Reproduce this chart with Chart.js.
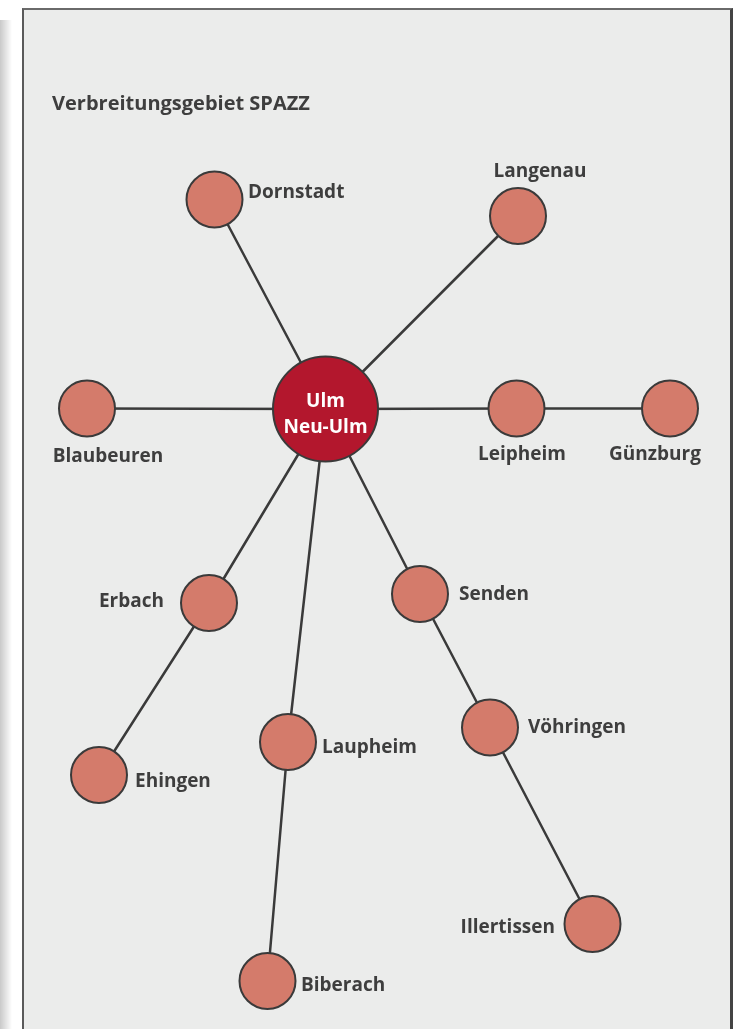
<!DOCTYPE html>
<html>
<head>
<meta charset="utf-8">
<script src="https://cdn.jsdelivr.net/npm/chart.js@4"></script>
<style>
  html, body { margin: 0; padding: 0; background: #ffffff; }
  #wrap { position: relative; width: 737px; height: 1029px; overflow: hidden; background: #ffffff; }
  #shadow { position: absolute; left: 0; top: 20px; width: 12px; height: 1009px;
            background: linear-gradient(to right, #c9c9c9, #ffffff); }
  #frame { position: absolute; left: 22px; top: 8px; width: 706px; height: 1040px;
           background: #ebeceb; border-left: 2px solid #5a5a5a; border-top: 2px solid #6a6a6a;
           border-right: 3px solid #444444; }
  canvas { position: absolute; left: 0; top: 0; }
</style>
</head>
<body>
<div id="wrap">
  <div id="shadow"></div>
  <div id="frame"></div>
  <canvas id="c" width="737" height="1029"></canvas>
</div>
<script>
// ---- data ----
const title = "Verbreitungsgebiet SPAZZ";
const nodeNames = ["Ulm\nNeu-Ulm", "Dornstadt", "Langenau", "Blaubeuren", "Leipheim", "Günzburg",
                   "Erbach", "Ehingen", "Laupheim", "Biberach", "Senden", "Vöhringen", "Illertissen"];
const nodeX = [325.5, 214.5, 518, 87, 516.5, 670, 209, 99, 288, 267.5, 420, 490, 592.5];
const nodeY = [409, 199.5, 216, 408.5, 408.5, 408.5, 603, 775, 742, 981, 594, 727.5, 924];
const edgeFrom = [0, 0, 0, 0, 4, 0, 6, 0, 8, 0, 10, 11];
const edgeTo   = [1, 2, 3, 4, 5, 6, 7, 8, 9, 10, 11, 12];

// ---- layout / style (not data) ----
const hubRadius = 52.5, nodeRadius = 28;
const hubColor = "#b3172d", nodeColor = "#d47b6b", strokeColor = "#3a3a3a", textColor = "#3e3e3e";
// label placement per node: [dx, dy (baseline), align]
const labelLayout = [
  [0, 0, "center"],
  [33.5, -1.5, "left"],
  [22, -39, "center"],
  [21, 53.5, "center"],
  [5.5, 51.5, "center"],
  [-15, 51.5, "center"],
  [-45, 4, "right"],
  [36, 12, "left"],
  [34, 11, "left"],
  [33.5, 10, "left"],
  [39, 6, "left"],
  [38, 5.5, "left"],
  [-37.5, 9, "right"]
];
const FONT = "'Open Sans', 'Noto Sans', sans-serif";

const nodePoints = nodeX.map((x, i) => ({ x: x, y: nodeY[i] }));
const edgePoints = [];
edgeFrom.forEach((f, i) => {
  edgePoints.push({ x: nodeX[f], y: nodeY[f] });
  edgePoints.push({ x: nodeX[edgeTo[i]], y: nodeY[edgeTo[i]] });
  edgePoints.push({ x: null, y: null });
});

const labelPlugin = {
  id: "labels",
  afterDatasetsDraw(chart) {
    const ctx = chart.ctx;
    const xs = chart.scales.x, ys = chart.scales.y;
    ctx.save();
    ctx.textBaseline = "alphabetic";
    // title
    ctx.fillStyle = textColor;
    ctx.font = "bold 20px " + FONT;
    ctx.textAlign = "left";
    ctx.fillText(title, xs.getPixelForValue(52), ys.getPixelForValue(110));
    nodeNames.forEach((name, i) => {
      const px = xs.getPixelForValue(nodeX[i]);
      const py = ys.getPixelForValue(nodeY[i]);
      const [dx, dy, align] = labelLayout[i];
      ctx.textAlign = align;
      if (i === 0) {
        ctx.fillStyle = "#ffffff";
        ctx.font = "bold 19px " + FONT;
        const lines = name.split("\n");
        ctx.fillText(lines[0], px, py - 2);
        ctx.fillText(lines[1], px, py + 24);
      } else {
        ctx.fillStyle = textColor;
        ctx.font = "bold 19px " + FONT;
        ctx.fillText(name, px + dx, py + dy);
      }
    });
    ctx.restore();
  }
};

new Chart(document.getElementById("c"), {
  type: "scatter",
  data: {
    datasets: [
      {
        label: "nodes",
        order: 0,
        data: nodePoints,
        pointRadius: nodePoints.map((p, i) => i === 0 ? hubRadius : nodeRadius),
        pointBackgroundColor: nodePoints.map((p, i) => i === 0 ? hubColor : nodeColor),
        pointBorderColor: strokeColor,
        pointBorderWidth: 2,
        showLine: false,
        clip: false
      },
      {
        label: "edges",
        order: 1,
        data: edgePoints,
        showLine: true,
        spanGaps: false,
        borderColor: strokeColor,
        borderWidth: 2.5,
        pointRadius: 0,
        fill: false,
        clip: false
      }
    ]
  },
  options: {
    responsive: false,
    animation: false,
    events: [],
    layout: { padding: 0, autoPadding: false },
    plugins: { legend: { display: false }, tooltip: { enabled: false } },
    scales: {
      x: { type: "linear", min: 0, max: 737, display: false },
      y: { type: "linear", min: 0, max: 1029, reverse: true, display: false }
    }
  },
  plugins: [labelPlugin]
});
</script>
</body>
</html>
